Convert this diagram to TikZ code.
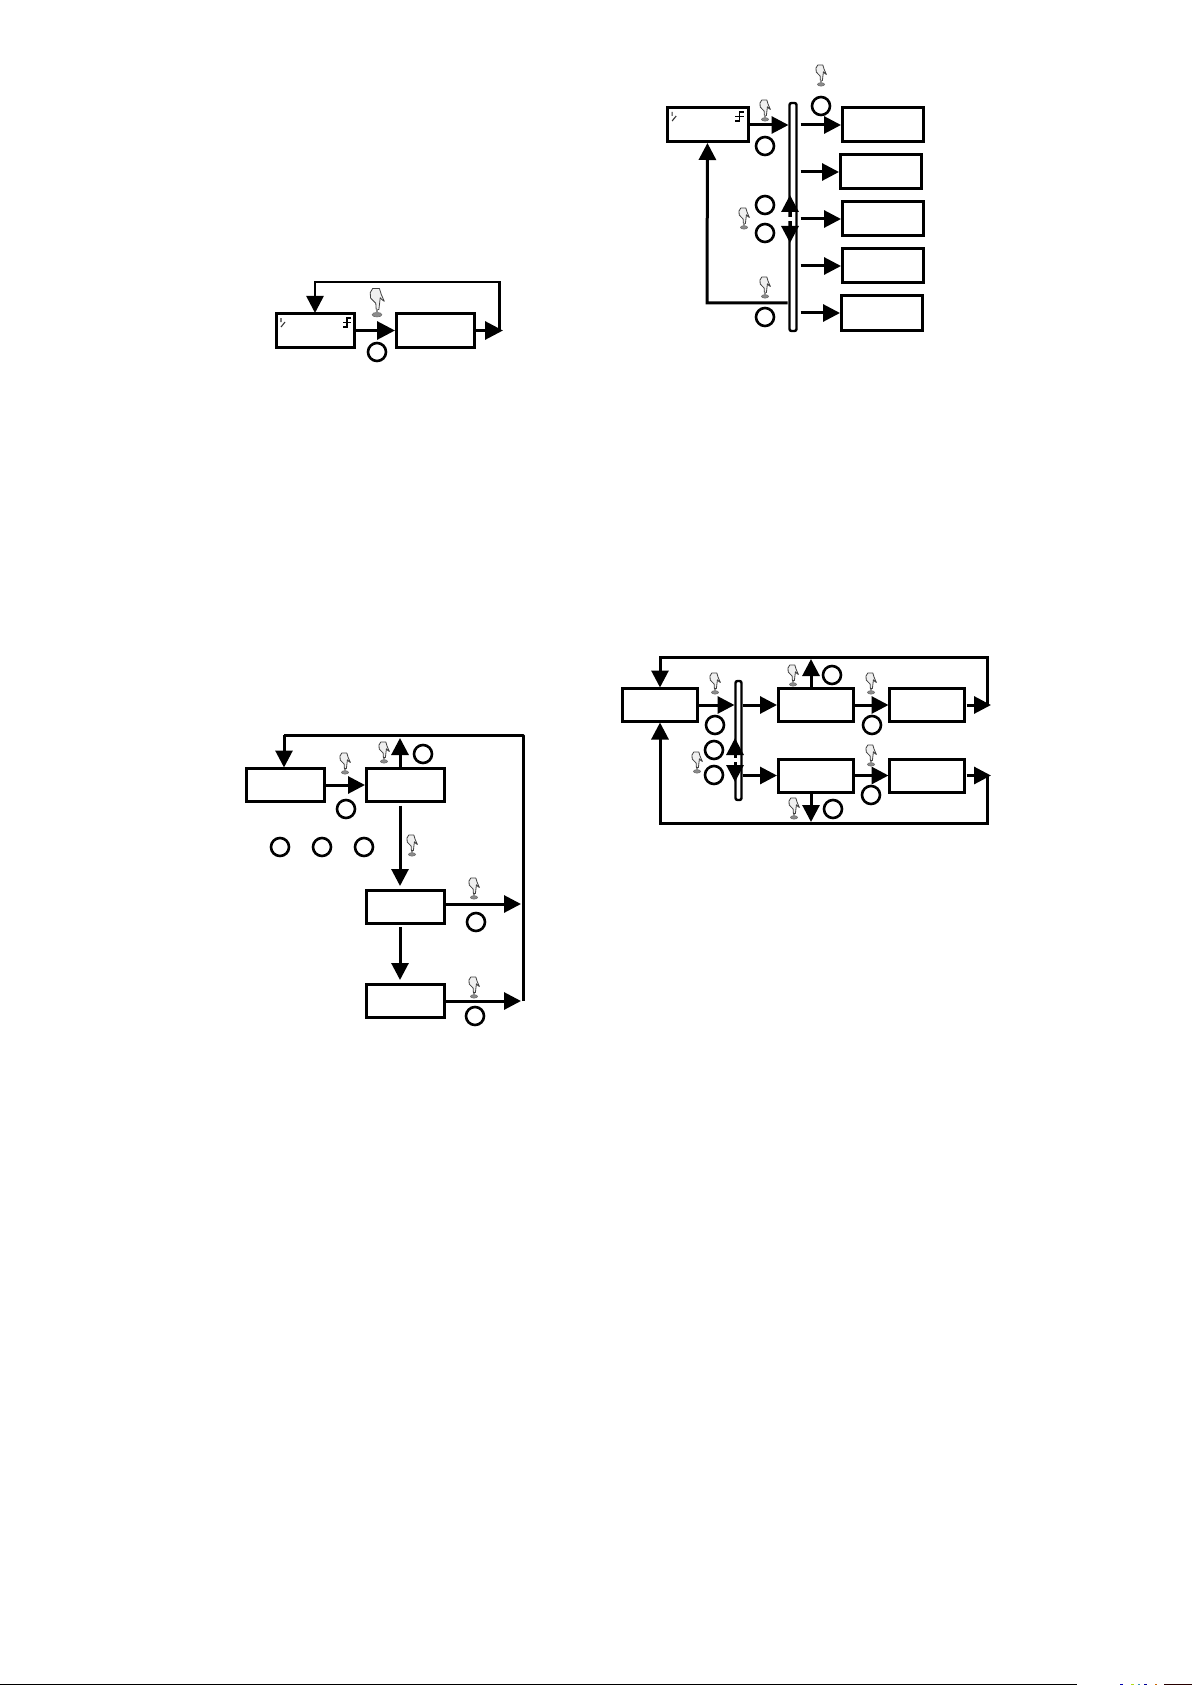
\documentclass[tikz,border=0pt]{standalone}
\usetikzlibrary{arrows.meta}
\definecolor{handgray}{gray}{0.55}
\tikzset{
  x=1pt,y=-1pt,
  box/.style={draw=black,line width=3pt,fill=white,minimum width=#1,minimum height=33pt,inner sep=0pt,outer sep=0pt},
  box/.default=78pt,
  busbar/.style={draw=black,line width=2.4pt,fill=white,rounded corners=2pt,inner sep=0pt,outer sep=0pt},
  ring/.style={circle,draw=black,line width=2.6pt,minimum size=18pt,inner sep=0pt,outer sep=0pt},
  flow/.style={draw=black,line width=3pt,-{Triangle[length=17pt,width=17pt]},shorten <=2pt,shorten >=1pt},
  bigflow/.style={flow,-{Triangle[length=18pt,width=18pt]}},
  flowline/.style={draw=black,line width=3pt,line join=round},
  gapmark/.style={fill=white},
  pics/hand/.style={code={
    \draw[handgray!80!black,line width=.6pt,fill=handgray] (0,9.4) ellipse (3.6 and 1.7);
    \draw[black!75,line width=.8pt,fill=black!6,line join=round]
      (-3.2,-10) -- (1.8,-10) -- (3.2,-5.5) -- (5.4,-.5) -- (3.6,-1.8) -- (2.4,-3.2) -- (1.4,5.5) -- (-.6,5.5) -- (-.9,1) -- (-4.8,-3) -- (-5,-7) -- cycle;
    \fill[handgray] (-1,5.5) rectangle (1,8.4);
  }},
  pics/cornermarks/.style={code={
    \draw[black!80,line width=1.1pt] (5,4) -- (5,8) (9,8) -- (5,13);
    \draw[black,line width=1.4pt] (75,4) -- (71,4) -- (71,13) -- (67,13) (67,8.5) -- (75,8.5);
  }},
}
\begin{document}
\begin{tikzpicture}
\useasboundingbox (0,0) rectangle (1192,1685);
\fill[white] (0,0) rectangle (1192,1685);

% ---------- diagram 1 ----------
\node[box] (a1) at (315,330.5) {};
\node[box] (a2) at (435,330.5) {};
\pic at (a1.north west) {cornermarks};
\coordinate (a3) at (503,330.5);
\coordinate (a4) at (499.5,282);
\coordinate (a5) at (315,282);
\draw[bigflow] (a1) -- (a2);
\draw[flow,line width=2.6pt,shorten <=0pt] (a3 -| a4) -- (a4) -- (a5) -- (a1);
\draw[bigflow,shorten >=0pt] (a2) -- (a3);
\node[ring] (ar) at (377,352) {};
\pic[scale=1.35] at (377,302) {hand};

% ---------- diagram 2 ----------
\node[box=81pt,minimum height=34pt] (b0) at (707.5,125) {};
\pic[xscale=1.02] at (b0.north west) {cornermarks};
\node[busbar,minimum width=7pt,minimum height=228pt] (bb) at (793,217) {};
\node[box=81pt,minimum height=34pt] (b1) at (882.5,125) {};
\node[box=81pt,minimum height=34pt] (b2) at (880.5,172) {};
\node[box=81pt,minimum height=34pt] (b3) at (882.5,219) {};
\node[box=81pt,minimum height=34pt] (b4) at (882.5,266) {};
\node[box=81pt,minimum height=34pt] (b5) at (881.5,313) {};
\draw[flow] (b0) -- (bb.west |- b0);
\foreach \n in {1,...,5}{\draw[flow,shorten <=4pt] (bb.east |- b\n) -- (b\n);}
\coordinate (bc) at (707,303);
\draw[flow,shorten <=2pt] (bb.west |- bc) -- (bc) -- (b0);
\coordinate (bu) at (790,195);
\coordinate (bd) at (790,243);
\coordinate (bm) at (790,219);
\draw[flow,shorten <=0pt,shorten >=0pt] (bm) -- (bu);
\draw[flow,shorten <=0pt,shorten >=0pt] (bm) -- (bd);
\fill[gapmark] (787,217) rectangle (793,221);
\node[ring] (br1) at (821,106) {};
\node[ring] (br2) at (765,146) {};
\node[ring] (br3) at (765,205) {};
\node[ring] (br4) at (765,233) {};
\node[ring] (br5) at (765,317) {};
\pic at (821,75) {hand};
\pic at (765,110) {hand};
\pic at (744,218) {hand};
\pic at (765,287) {hand};

% ---------- diagram 3 ----------
\node[box] (c1) at (285,785) {};
\node[box] (c2) at (405,785) {};
\node[box] (c3) at (405,906.5) {};
\node[box] (c4) at (405,1000.5) {};
\coordinate (ctl) at (284,735);
\coordinate (ctr) at (523,735);
\coordinate (cbr) at (523,1001);
\coordinate (cmr) at (523,904);
\coordinate (cup) at (400,737);
\draw[flowline] (cbr) -- (ctr) -- (ctl);
\draw[flow,shorten <=0pt] (ctl) -- (c1.north -| ctl);
\draw[flow,shorten <=0pt] (c2.north -| cup) -- (cup);
\draw[flow] (c1) -- (c2);
\draw[flow,shorten <=4pt,shorten >=4pt] (c2.south -| cup) -- (c3.north -| cup);
\draw[flow,shorten <=4pt,shorten >=4pt] (c3.south -| cup) -- (c4.north -| cup);
\draw[flow,shorten >=2pt] (c3.east |- cmr) -- (cmr);
\draw[flow,shorten >=2pt] (c4.east |- cbr) -- (cbr);
\node[ring] (cr1) at (346,809) {};
\node[ring] (cr2) at (280,847) {};
\node[ring] (cr3) at (322,847) {};
\node[ring] (cr4) at (364,847) {};
\node[ring] (cr5) at (423,754) {};
\node[ring] (cr6) at (476,922) {};
\node[ring] (cr7) at (475,1016) {};
\pic at (345,763) {hand};
\pic at (384,752) {hand};
\pic at (412,845) {hand};
\pic at (474,888) {hand};
\pic at (474,987) {hand};

% ---------- diagram 4 ----------
\node[box=75pt] (d1) at (659.5,705) {};
\node[busbar,minimum width=6pt,minimum height=119pt] (db) at (738.5,740.5) {};
\node[box=75pt] (d2) at (815.5,705) {};
\node[box=75pt] (d3) at (927,705) {};
\node[box=75pt] (d4) at (815.5,775.5) {};
\node[box=75pt] (d5) at (927,775.5) {};
\coordinate (dr1) at (991,705);
\coordinate (dr2) at (991,775.5);
\coordinate (dtr) at (987,657);
\coordinate (dtl) at (660,657);
\coordinate (dbr) at (987,823);
\coordinate (dbl) at (660,823);
\coordinate (dup) at (811,659);
\coordinate (ddn) at (811,822);
\draw[flow] (d1) -- (db.west |- d1);
\draw[flow,shorten <=1pt] (db.east |- d2) -- (d2);
\draw[flow,shorten <=1pt] (db.east |- d4) -- (d4);
\draw[flow] (d2) -- (d3);
\draw[flow] (d4) -- (d5);
\draw[flow,shorten <=0pt] (dr1 -| dtr) -- (dtr) -- (dtl) -- (d1.north -| dtl);
\draw[flow,shorten <=0pt] (dr2 -| dbr) -- (dbr) -- (dbl) -- (d1.south -| dbl);
\draw[flow,shorten >=0pt] (d3) -- (dr1);
\draw[flow,shorten >=0pt] (d5) -- (dr2);
\draw[flow,shorten <=0pt,shorten >=0pt] (d2.north -| dup) -- (dup);
\draw[flow,shorten <=0pt,shorten >=0pt] (d4.south -| ddn) -- (ddn);
\coordinate (du) at (735,738);
\coordinate (dd) at (735,782);
\coordinate (dm) at (735,760);
\draw[flow,shorten <=0pt,shorten >=0pt] (dm) -- (du);
\draw[flow,shorten <=0pt,shorten >=0pt] (dm) -- (dd);
\fill[gapmark] (732,758) rectangle (738,762);
\node[ring] (dr11) at (715,725) {};
\node[ring] (dr12) at (714,750) {};
\node[ring] (dr13) at (714,775) {};
\node[ring] (dr14) at (832,675) {};
\node[ring] (dr15) at (872,725) {};
\node[ring] (dr16) at (871,795) {};
\node[ring] (dr17) at (833,809) {};
\pic at (715,683) {hand};
\pic at (793,675) {hand};
\pic at (871,683) {hand};
\pic at (697,762) {hand};
\pic at (871,755) {hand};
\pic at (794,808) {hand};

% ---------- foot rule ----------
\fill[black] (0,1683.5) rectangle (1077,1685);
\fill[blue!70!black] (1120,1684) rectangle (1123,1685);
\fill[yellow!70!green] (1131,1684) rectangle (1134,1685);
\fill[cyan!70!black] (1138,1684) rectangle (1140,1685);
\fill[blue!60!black] (1144,1684) rectangle (1147,1685);
\fill[orange!80!black] (1155,1684) rectangle (1157,1685);
\fill[black!85!red] (1164,1684) rectangle (1192,1685);
\end{tikzpicture}
\end{document}
